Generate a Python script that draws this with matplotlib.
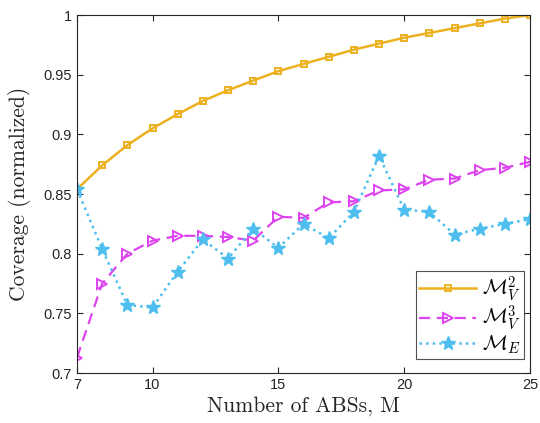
import matplotlib
matplotlib.use("Agg")
import matplotlib.pyplot as plt

plt.rcParams['mathtext.fontset'] = 'cm'
plt.rcParams['font.family'] = ['Liberation Sans', 'DejaVu Sans']

# number of ABSs
M = list(range(7, 26))

cov_v2 = [0.854, 0.874, 0.891, 0.905, 0.917, 0.928, 0.937, 0.945, 0.953, 0.959,
          0.965, 0.971, 0.976, 0.981, 0.985, 0.989, 0.993, 0.997, 1.000]
cov_v3 = [0.713, 0.775, 0.800, 0.811, 0.815, 0.815, 0.814, 0.811, 0.831, 0.830,
          0.843, 0.844, 0.853, 0.854, 0.862, 0.863, 0.870, 0.872, 0.877]
cov_e = [0.854, 0.804, 0.757, 0.755, 0.785, 0.812, 0.796, 0.821, 0.805, 0.825,
         0.813, 0.835, 0.882, 0.837, 0.835, 0.816, 0.821, 0.825, 0.829]

yticks = [0.7, 0.75, 0.8, 0.85, 0.9, 0.95, 1.0]
ytick_labels = ['0.7', '0.75', '0.8', '0.85', '0.9', '0.95', '1']
xticks = [7, 10, 15, 20, 25]

fig = plt.figure(figsize=(5.4, 4.23), dpi=100)
ax = fig.add_axes([0.1426, 0.118, 0.839, 0.8465])

ax.plot(M, cov_v2, '-', color='#EDB120', lw=1.8, marker='s', ms=4.5,
        mfc='none', mew=1.4, label=r'$\mathcal{M}_V^2$')
ax.plot(M, cov_v3, '--', color='#DD44F0', lw=1.6, marker='>', ms=6.5,
        mfc='none', mew=1.4, dashes=(5, 3), label=r'$\mathcal{M}_V^3$')
ax.plot(M, cov_e, ':', color='#4DBEEE', lw=1.8, marker='*', ms=10,
        label=r'$\mathcal{M}_E$')

ax.set_xlim(7, 25)
ax.set_ylim(0.7, 1.0)
ax.set_xticks(xticks)
ax.set_yticks(yticks)
ax.set_yticklabels(ytick_labels)
ax.tick_params(direction='in', top=True, right=True, labelsize=10.5,
               length=4, width=0.8, colors='#262626')
for s in ax.spines.values():
    s.set_color('#262626')
    s.set_linewidth(0.8)

ax.set_xlabel('Number of ABSs, M', fontfamily='cmr10', fontsize=15.5,
              color='#262626', labelpad=3)
ax.set_ylabel('Coverage (normalized)', fontfamily='cmr10', fontsize=15.5,
              color='#262626', labelpad=9)

leg = ax.legend(loc='lower right', fontsize=15, fancybox=False,
                edgecolor='#262626', handlelength=2.7, borderpad=0.15,
                labelspacing=0.0, handletextpad=0.3, borderaxespad=0,
                bbox_to_anchor=(0.987, 0.039))
leg.get_frame().set_linewidth(0.8)

plt.savefig('out.png', dpi=100)
